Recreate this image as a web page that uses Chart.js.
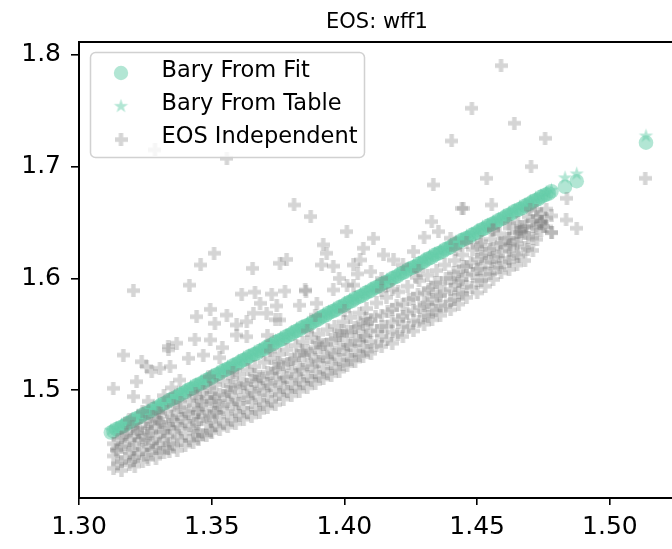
<!DOCTYPE html>
<html>
<head>
<meta charset="utf-8">
<script src="https://cdn.jsdelivr.net/npm/chart.js@4"></script>
<style>
  html, body { margin: 0; padding: 0; background: #fff; }
  canvas { display: block; }
</style>
</head>
<body>
<canvas id="chart" width="672" height="549" style="width:672px;height:549px"></canvas>
<script>
// tick values and labels
const xTicks = [1.30, 1.35, 1.40, 1.45, 1.50];
const xTickLabels = ["1.30", "1.35", "1.40", "1.45", "1.50"];
const yTicks = [1.5, 1.6, 1.7, 1.8];
const yTickLabels = ["1.5", "1.6", "1.7", "1.8"];

const titleText = "EOS: wff1";
const seriesNames = ["Bary From Fit", "Bary From Table", "EOS Independent"];

// "Bary From Fit" circles (dense band + the few points at the top end)
const fitX = [1.312,1.313,1.314,1.315,1.316,1.317,1.318,1.319,1.320,1.321,
  1.322,1.323,1.324,1.325,1.326,1.327,1.328,1.329,1.330,1.331,
  1.332,1.333,1.334,1.335,1.336,1.337,1.338,1.339,1.340,1.341,
  1.342,1.343,1.344,1.345,1.346,1.347,1.348,1.349,1.350,1.351,
  1.352,1.353,1.354,1.355,1.356,1.357,1.358,1.359,1.360,1.361,
  1.362,1.363,1.364,1.365,1.366,1.367,1.368,1.369,1.370,1.371,
  1.372,1.373,1.374,1.375,1.376,1.377,1.378,1.379,1.380,1.381,
  1.382,1.383,1.384,1.385,1.386,1.387,1.388,1.389,1.390,1.391,
  1.392,1.393,1.394,1.395,1.396,1.397,1.398,1.399,1.400,1.401,
  1.402,1.403,1.404,1.405,1.406,1.407,1.408,1.409,1.410,1.411,
  1.412,1.413,1.414,1.415,1.416,1.417,1.418,1.419,1.420,1.421,
  1.422,1.423,1.424,1.425,1.426,1.427,1.428,1.429,1.430,1.431,
  1.432,1.433,1.434,1.435,1.436,1.437,1.438,1.439,1.440,1.441,
  1.442,1.443,1.444,1.445,1.446,1.447,1.448,1.449,1.450,1.451,
  1.452,1.453,1.454,1.455,1.456,1.457,1.458,1.459,1.460,1.461,
  1.462,1.463,1.464,1.465,1.466,1.467,1.468,1.469,1.470,1.471,
  1.472,1.473,1.474,1.475,1.476,1.477,1.478,
  1.4831,1.4875,1.5136];
const fitY = [1.462,1.463,1.465,1.466,1.467,1.468,1.470,1.471,1.472,1.474,
  1.475,1.476,1.478,1.479,1.480,1.481,1.483,1.484,1.485,1.487,
  1.488,1.489,1.491,1.492,1.493,1.494,1.496,1.497,1.498,1.500,
  1.501,1.502,1.504,1.505,1.506,1.507,1.509,1.510,1.511,1.513,
  1.514,1.515,1.517,1.518,1.519,1.520,1.522,1.523,1.524,1.526,
  1.527,1.528,1.530,1.531,1.532,1.533,1.535,1.536,1.537,1.539,
  1.540,1.541,1.543,1.544,1.545,1.546,1.548,1.549,1.550,1.552,
  1.553,1.554,1.556,1.557,1.558,1.559,1.561,1.562,1.563,1.565,
  1.566,1.567,1.569,1.570,1.571,1.572,1.574,1.575,1.576,1.578,
  1.579,1.580,1.582,1.583,1.584,1.585,1.587,1.588,1.589,1.591,
  1.592,1.593,1.595,1.596,1.597,1.598,1.600,1.601,1.602,1.604,
  1.605,1.606,1.608,1.609,1.610,1.611,1.613,1.614,1.615,1.617,
  1.618,1.619,1.621,1.622,1.623,1.624,1.626,1.627,1.628,1.630,
  1.631,1.632,1.634,1.635,1.636,1.637,1.639,1.640,1.641,1.643,
  1.644,1.645,1.647,1.648,1.649,1.650,1.652,1.653,1.654,1.656,
  1.657,1.658,1.660,1.661,1.662,1.663,1.665,1.666,1.667,1.669,
  1.670,1.671,1.673,1.674,1.675,1.676,1.678,
  1.682,1.687,1.7215];

// "Bary From Table" stars
const tableX = [1.312,1.314,1.316,1.318,1.320,1.322,1.324,1.326,1.328,1.330,
  1.332,1.334,1.336,1.338,1.340,1.342,1.344,1.346,1.348,1.350,
  1.352,1.354,1.356,1.358,1.360,1.362,1.364,1.366,1.368,1.370,
  1.372,1.374,1.376,1.378,1.380,1.382,1.384,1.386,1.388,1.390,
  1.392,1.394,1.396,1.398,1.400,1.402,1.404,1.406,1.408,1.410,
  1.412,1.414,1.416,1.418,1.420,1.422,1.424,1.426,1.428,1.430,
  1.432,1.434,1.436,1.438,1.440,1.442,1.444,1.446,1.448,1.450,
  1.452,1.454,1.456,1.458,1.460,1.462,1.464,1.466,1.468,1.470,
  1.472,1.474,1.476,1.478,1.4831,1.4875,1.5136];
const tableY = [1.464,1.466,1.469,1.472,1.474,1.477,1.479,1.482,1.485,1.487,
  1.490,1.492,1.495,1.498,1.500,1.503,1.505,1.508,1.511,1.513,
  1.516,1.518,1.521,1.523,1.526,1.529,1.531,1.534,1.536,1.539,
  1.542,1.544,1.547,1.549,1.552,1.555,1.557,1.560,1.562,1.565,
  1.568,1.570,1.573,1.575,1.578,1.581,1.583,1.586,1.588,1.591,
  1.594,1.596,1.599,1.601,1.604,1.607,1.609,1.612,1.614,1.617,
  1.620,1.622,1.625,1.627,1.630,1.633,1.635,1.638,1.640,1.643,
  1.646,1.648,1.651,1.653,1.656,1.659,1.661,1.664,1.666,1.669,
  1.672,1.674,1.677,1.679,1.690,1.6935,1.7275];

// gray "EOS Independent" points [x, y]
const grayPts = [
  [1.3129,1.5016],[1.313,1.430],[1.313,1.441],[1.313,1.452],[1.314,1.447],
  [1.316,1.428],[1.316,1.436],[1.316,1.449],[1.316,1.458],[1.3167,1.5314],
  [1.319,1.433],[1.319,1.444],[1.319,1.455],[1.318,1.462],[1.319,1.474],
  [1.321,1.432],[1.321,1.440],[1.321,1.452],[1.322,1.465],[1.3217,1.5075],[1.3205,1.4941],[1.3205,1.589],
  [1.324,1.436],[1.324,1.447],[1.324,1.458],[1.323,1.466],[1.3236,1.5254],[1.324,1.481],
  [1.326,1.438],[1.326,1.450],[1.326,1.461],[1.327,1.470],[1.3255,1.521],[1.326,1.490],
  [1.329,1.439],[1.329,1.448],[1.329,1.457],[1.329,1.468],[1.330,1.474],[1.3274,1.5165],[1.3286,1.715],
  [1.332,1.444],[1.332,1.455],[1.332,1.463],[1.331,1.471],[1.332,1.495],[1.3337,1.536],
  [1.334,1.445],[1.334,1.452],[1.334,1.466],[1.335,1.476],[1.3336,1.539],[1.335,1.502],
  [1.337,1.446],[1.337,1.458],[1.337,1.469],[1.337,1.478],[1.338,1.484],[1.3368,1.542],[1.338,1.509],
  [1.340,1.450],[1.340,1.461],[1.340,1.472],[1.340,1.481],[1.3305,1.5195],[1.3343,1.521],
  [1.343,1.453],[1.343,1.465],[1.343,1.476],[1.343,1.486],[1.3437,1.5455],[1.3443,1.5657],[1.3416,1.594],
  [1.345,1.456],[1.345,1.463],[1.345,1.474],[1.345,1.483],[1.346,1.490],[1.3468,1.5314],[1.3458,1.612],[1.3412,1.5285],
  [1.348,1.459],[1.348,1.470],[1.348,1.482],[1.348,1.493],[1.3494,1.5449],[1.349,1.512],
  [1.350,1.462],[1.350,1.472],[1.351,1.480],[1.351,1.488],[1.350,1.497],[1.3494,1.5723],[1.3512,1.5598],[1.3509,1.6225],
  [1.353,1.465],[1.353,1.476],[1.353,1.486],[1.353,1.496],[1.353,1.529],[1.354,1.538],
  [1.356,1.467],[1.356,1.479],[1.356,1.490],[1.356,1.499],[1.357,1.504],[1.3557,1.5672],[1.3557,1.7075],
  [1.359,1.470],[1.359,1.481],[1.359,1.492],[1.359,1.503],[1.3594,1.5583],[1.3613,1.586],[1.3594,1.5493],
  [1.362,1.474],[1.362,1.484],[1.362,1.495],[1.362,1.506],[1.3632,1.5478],[1.3632,1.5612],
  [1.365,1.476],[1.365,1.489],[1.365,1.499],[1.365,1.509],[1.366,1.514],[1.3654,1.609],[1.3657,1.5688],[1.3663,1.5877],
  [1.368,1.480],[1.368,1.491],[1.368,1.502],[1.368,1.512],[1.3682,1.5777],[1.3707,1.5688],
  [1.371,1.484],[1.371,1.495],[1.371,1.506],[1.371,1.516],[1.371,1.549],[1.3726,1.586],
  [1.374,1.487],[1.374,1.499],[1.374,1.510],[1.374,1.519],[1.375,1.525],[1.3745,1.5753],[1.374,1.563],
  [1.377,1.492],[1.377,1.502],[1.377,1.512],[1.377,1.523],[1.3757,1.6135],[1.3776,1.5887],[1.3757,1.5628],
  [1.380,1.495],[1.380,1.506],[1.380,1.517],[1.380,1.527],[1.3782,1.617],[1.381,1.6657],
  [1.383,1.499],[1.383,1.509],[1.383,1.520],[1.383,1.531],[1.384,1.535],[1.383,1.576],[1.3855,1.5887],
  [1.386,1.502],[1.386,1.512],[1.386,1.523],[1.386,1.535],[1.3852,1.5896],[1.3873,1.6553],
  [1.389,1.506],[1.389,1.516],[1.389,1.527],[1.389,1.538],[1.390,1.543],[1.3896,1.5777],[1.389,1.567],
  [1.392,1.510],[1.392,1.520],[1.392,1.530],[1.392,1.541],[1.392,1.630],[1.3914,1.612],[1.3933,1.6225],
  [1.395,1.513],[1.395,1.524],[1.395,1.534],[1.395,1.545],[1.3958,1.611],[1.3958,1.5896],
  [1.398,1.517],[1.398,1.527],[1.398,1.538],[1.398,1.549],[1.399,1.553],[1.398,1.600],
  [1.401,1.522],[1.401,1.531],[1.401,1.541],[1.401,1.552],[1.4009,1.6418],[1.401,1.594],[1.4034,1.612],
  [1.404,1.526],[1.404,1.535],[1.404,1.545],[1.404,1.556],[1.4034,1.594],[1.405,1.604],
  [1.407,1.530],[1.407,1.539],[1.407,1.549],[1.407,1.559],[1.408,1.564],[1.4071,1.627],[1.4059,1.6165],
  [1.410,1.533],[1.410,1.543],[1.410,1.553],[1.410,1.563],[1.4109,1.6359],[1.410,1.606],
  [1.414,1.539],[1.414,1.548],[1.414,1.557],[1.414,1.567],[1.4147,1.621],[1.414,1.600],
  [1.418,1.542],[1.418,1.552],[1.418,1.561],[1.418,1.572],[1.4185,1.6165],[1.418,1.590],
  [1.422,1.548],[1.422,1.557],[1.422,1.566],[1.422,1.577],[1.422,1.612],
  [1.426,1.553],[1.426,1.562],[1.426,1.571],[1.426,1.582],[1.426,1.624],[1.427,1.601],
  [1.430,1.559],[1.430,1.567],[1.430,1.576],[1.430,1.587],[1.430,1.637],
  [1.433,1.563],[1.433,1.572],[1.433,1.581],[1.433,1.592],[1.4329,1.6508],[1.4335,1.6836],
  [1.436,1.567],[1.436,1.576],[1.436,1.585],[1.436,1.596],[1.4354,1.6418],
  [1.440,1.572],[1.440,1.580],[1.440,1.590],[1.440,1.600],[1.4404,1.723],[1.440,1.636],
  [1.443,1.577],[1.443,1.587],[1.443,1.597],[1.443,1.606],[1.4442,1.6627],
  [1.446,1.583],[1.446,1.593],[1.446,1.603],[1.446,1.611],[1.446,1.632],[1.448,1.7523],
  [1.450,1.587],[1.450,1.598],[1.450,1.608],[1.450,1.617],[1.4448,1.6627],[1.450,1.628],
  [1.453,1.593],[1.453,1.604],[1.453,1.614],[1.453,1.622],[1.4536,1.6896],
  [1.456,1.599],[1.456,1.609],[1.456,1.619],[1.456,1.627],[1.4555,1.6657],[1.456,1.643],
  [1.459,1.605],[1.459,1.614],[1.459,1.624],[1.459,1.632],[1.459,1.7904],[1.4517,1.6329],
  [1.462,1.608],[1.462,1.618],[1.462,1.629],[1.462,1.636],[1.4624,1.6299],[1.462,1.649],
  [1.465,1.612],[1.465,1.622],[1.465,1.634],[1.465,1.641],[1.464,1.7389],[1.4662,1.6418],
  [1.468,1.616],[1.468,1.628],[1.468,1.640],[1.468,1.646],[1.4668,1.6418],[1.4662,1.6463],
  [1.471,1.625],[1.471,1.636],[1.471,1.646],[1.471,1.652],[1.4703,1.700],
  [1.474,1.643],[1.474,1.651],[1.474,1.658],[1.4737,1.6493],[1.4743,1.6508],
  [1.476,1.646],[1.476,1.654],[1.476,1.662],[1.4756,1.7254],[1.475,1.6463],
  [1.478,1.641],[1.478,1.656],[1.4781,1.641],
  [1.4838,1.6717],[1.4835,1.6523],[1.4875,1.6449],[1.5133,1.6896],
  // denser core just under the green band
  [1.3145,1.434],[1.3142,1.446],[1.3148,1.456],
  [1.3175,1.439],[1.3172,1.451],[1.3178,1.460],
  [1.3205,1.437],[1.3203,1.447],[1.3208,1.459],[1.3201,1.467],
  [1.3225,1.443],[1.3228,1.455],[1.3222,1.462],
  [1.3255,1.442],[1.3252,1.456],[1.3258,1.466],[1.3251,1.472],
  [1.3275,1.446],[1.3278,1.453],[1.3272,1.463],[1.3276,1.476],
  [1.3305,1.444],[1.3301,1.452],[1.3308,1.462],[1.3303,1.471],[1.3306,1.479],
  [1.3335,1.448],[1.3332,1.459],[1.3338,1.469],[1.3331,1.481],
  [1.3355,1.451],[1.3358,1.463],[1.3352,1.473],[1.3357,1.486],
  [1.3385,1.455],[1.3381,1.466],[1.3388,1.475],[1.3383,1.489],
  [1.3415,1.455],[1.3418,1.468],[1.3412,1.479],[1.3416,1.491],
  [1.3445,1.459],[1.3442,1.470],[1.3448,1.480],[1.3443,1.494],
  [1.3465,1.460],[1.3468,1.476],[1.3462,1.487],[1.3467,1.499],
  [1.3495,1.464],[1.3491,1.477],[1.3498,1.490],[1.3493,1.502],
  [1.3515,1.468],[1.3518,1.480],[1.3512,1.493],[1.3516,1.505],
  [1.3545,1.470],[1.3542,1.484],[1.3548,1.495],[1.3543,1.508],
  [1.3575,1.473],[1.3578,1.487],[1.3572,1.498],[1.3577,1.511],
  [1.3605,1.477],[1.3601,1.488],[1.3608,1.502],[1.3603,1.514],
  [1.3635,1.480],[1.3638,1.493],[1.3632,1.505],[1.3636,1.518],
  [1.3665,1.483],[1.3662,1.497],[1.3668,1.508],[1.3663,1.521],
  [1.3695,1.487],[1.3698,1.500],[1.3692,1.510],[1.3697,1.525],
  [1.3725,1.490],[1.3721,1.504],[1.3728,1.515],[1.3723,1.528],
  [1.3755,1.496],[1.3758,1.507],[1.3752,1.520],[1.3756,1.532],
  [1.3785,1.499],[1.3782,1.511],[1.3788,1.524],[1.3783,1.536],
  [1.3815,1.502],[1.3818,1.514],[1.3812,1.528],[1.3817,1.540],
  [1.3845,1.506],[1.3841,1.518],[1.3848,1.531],[1.3843,1.543],
  [1.3875,1.509],[1.3878,1.521],[1.3872,1.533],[1.3876,1.547],
  [1.3905,1.512],[1.3902,1.526],[1.3908,1.538],[1.3903,1.550],
  [1.3935,1.515],[1.3938,1.529],[1.3932,1.541],[1.3937,1.554],
  [1.3965,1.519],[1.3961,1.532],[1.3968,1.546],[1.3963,1.557],
  [1.3995,1.523],[1.3998,1.536],[1.3992,1.549],[1.3996,1.561],
  [1.4025,1.527],[1.4022,1.540],[1.4028,1.552],[1.4023,1.565],
  [1.4055,1.531],[1.4058,1.544],[1.4052,1.557],[1.4057,1.569],
  [1.4085,1.535],[1.4081,1.548],[1.4088,1.560],[1.4083,1.573],
  [1.4120,1.540],[1.4123,1.553],[1.4117,1.566],[1.4121,1.578],
  [1.4160,1.545],[1.4157,1.557],[1.4163,1.570],[1.4158,1.583],
  [1.4200,1.550],[1.4203,1.563],[1.4197,1.576],[1.4202,1.588],
  [1.4240,1.556],[1.4236,1.569],[1.4243,1.581],[1.4238,1.593],
  [1.4280,1.561],[1.4283,1.574],[1.4277,1.586],[1.4281,1.598],
  [1.4315,1.566],[1.4312,1.578],[1.4318,1.590],[1.4313,1.603],
  [1.4345,1.571],[1.4348,1.584],[1.4342,1.596],[1.4347,1.607],
  [1.4380,1.575],[1.4376,1.588],[1.4383,1.600],[1.4378,1.612],
  [1.4415,1.581],[1.4418,1.594],[1.4412,1.605],[1.4416,1.616],
  [1.4445,1.586],[1.4442,1.599],[1.4448,1.611],[1.4443,1.621],
  [1.4480,1.592],[1.4483,1.604],[1.4477,1.614],[1.4482,1.626],
  [1.4515,1.598],[1.4511,1.609],[1.4518,1.620],[1.4513,1.630],
  [1.4550,1.604],[1.4553,1.615],[1.4547,1.626],[1.4552,1.635],
  [1.4585,1.610],[1.4582,1.620],[1.4588,1.631],[1.4583,1.640],
  [1.4620,1.615],[1.4623,1.625],[1.4617,1.636],[1.4621,1.645],
  [1.4655,1.620],[1.4651,1.631],[1.4658,1.641],[1.4653,1.650],
  [1.4690,1.626],[1.4693,1.637],[1.4687,1.647],[1.4692,1.655],
  [1.4725,1.635],[1.4722,1.645],[1.4728,1.655],[1.4723,1.661],
  // points just under the green band
  [1.330,1.480],[1.344,1.497],[1.358,1.516],[1.372,1.535],[1.386,1.553],[1.400,1.571],
  [1.414,1.589],[1.428,1.607],[1.442,1.626],[1.456,1.644],[1.470,1.662]
];

const FONT = "'DejaVu Sans', 'Liberation Sans', sans-serif";
const greenFill = "rgba(102, 205, 170, 0.5)";
const grayFill = "rgba(128, 128, 128, 0.33)";

// filled star marker like matplotlib "*"
function makeStar(r, color) {
  const s = Math.ceil(r * 2) + 2;
  const c = document.createElement("canvas");
  c.width = s; c.height = s;
  const g = c.getContext("2d");
  g.fillStyle = color;
  g.beginPath();
  for (let i = 0; i < 10; i++) {
    const rad = i % 2 ? r * 0.382 : r;
    const a = -Math.PI / 2 + i * Math.PI / 5;
    const px = s / 2 + rad * Math.cos(a), py = s / 2 + rad * Math.sin(a);
    if (i === 0) g.moveTo(px, py); else g.lineTo(px, py);
  }
  g.closePath();
  g.fill();
  return c;
}

// filled plus marker like matplotlib "P"
function makePlus(size, arm, color) {
  const c = document.createElement("canvas");
  c.width = size; c.height = size;
  const g = c.getContext("2d");
  g.fillStyle = color;
  const o = (size - arm) / 2;
  g.beginPath();
  g.rect(0, o, size, arm);
  g.rect(o, 0, arm, size);
  g.fill("nonzero");
  return c;
}

const starImg = makeStar(7.5, greenFill);
const plusImg = makePlus(13, 4.4, grayFill);

// title, top spine and boxed legend
const extrasPlugin = {
  id: "extras",
  afterDraw(chart) {
    const ctx = chart.ctx;
    const a = chart.chartArea;
    ctx.save();
    ctx.strokeStyle = "#000";
    ctx.lineWidth = 2;
    ctx.beginPath();
    ctx.moveTo(a.left - 1, a.top);
    ctx.lineTo(a.right, a.top);
    ctx.stroke();

    ctx.fillStyle = "#000";
    ctx.font = "21px " + FONT;
    ctx.textAlign = "center";
    ctx.textBaseline = "alphabetic";
    ctx.fillText(titleText, 377, 27.5);

    // legend box
    const bx = 90.5, by = 52.5, bw = 274, bh = 105, r = 5;
    ctx.beginPath();
    ctx.moveTo(bx + r, by);
    ctx.arcTo(bx + bw, by, bx + bw, by + bh, r);
    ctx.arcTo(bx + bw, by + bh, bx, by + bh, r);
    ctx.arcTo(bx, by + bh, bx, by, r);
    ctx.arcTo(bx, by, bx + bw, by, r);
    ctx.closePath();
    ctx.fillStyle = "rgba(255,255,255,0.8)";
    ctx.fill();
    ctx.strokeStyle = "rgba(204,204,204,0.9)";
    ctx.lineWidth = 1.5;
    ctx.stroke();

    const mx = 121;
    const rows = [73, 106.3, 139.6];
    ctx.fillStyle = greenFill;
    ctx.beginPath();
    ctx.arc(mx, rows[0], 7.2, 0, Math.PI * 2);
    ctx.fill();
    ctx.drawImage(starImg, mx - starImg.width / 2, rows[1] - starImg.height / 2);
    ctx.drawImage(plusImg, mx - plusImg.width / 2, rows[2] - plusImg.height / 2);

    ctx.fillStyle = "#000";
    ctx.font = "22.5px " + FONT;
    ctx.textAlign = "left";
    ctx.textBaseline = "middle";
    seriesNames.forEach((name, i) => ctx.fillText(name, 161.5, rows[i] - 2));
    ctx.restore();
  }
};

const ctx = document.getElementById("chart").getContext("2d");
const chart = new Chart(ctx, {
  type: "scatter",
  data: {
    datasets: [
      {
        label: seriesNames[0],
        data: fitX.map((x, i) => ({ x: x, y: fitY[i] })),
        pointStyle: "circle",
        pointRadius: 7.3,
        pointBorderWidth: 0,
        backgroundColor: greenFill,
        borderColor: "rgba(0,0,0,0)",
        order: 3
      },
      {
        label: seriesNames[1],
        data: tableX.map((x, i) => ({ x: x, y: tableY[i] })),
        pointStyle: starImg,
        pointRadius: 7.5,
        order: 2
      },
      {
        label: seriesNames[2],
        data: grayPts.map(p => ({ x: p[0], y: p[1] })),
        pointStyle: plusImg,
        pointRadius: 6.5,
        order: 1
      }
    ]
  },
  options: {
    responsive: false,
    animation: false,
    events: [],
    layout: { autoPadding: false, padding: { top: 42, right: 0, left: 0, bottom: 0 } },
    plugins: {
      legend: { display: false },
      title: { display: false },
      tooltip: { enabled: false }
    },
    scales: {
      x: {
        type: "linear",
        min: 1.30,
        max: 1.5234,
        afterBuildTicks: (scale) => { scale.ticks = xTicks.map(v => ({ value: v })); },
        afterFit: (scale) => { scale.height = 51; },
        ticks: {
          autoSkip: false,
          maxRotation: 0,
          color: "#000",
          padding: 7,
          font: { family: FONT, size: 25 },
          callback: (v, i) => xTickLabels[i]
        },
        grid: { drawOnChartArea: false, drawTicks: true, tickLength: 7, color: "#000", lineWidth: 1.6 },
        border: { display: true, color: "#000", width: 2 }
      },
      y: {
        type: "linear",
        min: 1.4034,
        max: 1.8116,
        afterBuildTicks: (scale) => { scale.ticks = yTicks.map(v => ({ value: v })); },
        afterFit: (scale) => { scale.width = 79; },
        ticks: {
          color: "#000",
          padding: 10,
          font: { family: FONT, size: 25 },
          callback: (v, i) => yTickLabels[i]
        },
        grid: { drawOnChartArea: false, drawTicks: true, tickLength: 8, color: "#000", lineWidth: 1.6 },
        border: { display: true, color: "#000", width: 2 }
      }
    }
  },
  plugins: [extrasPlugin]
});
</script>
</body>
</html>
